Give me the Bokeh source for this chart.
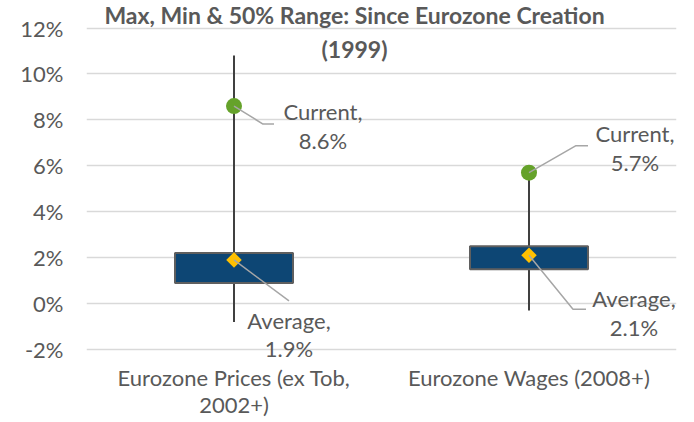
from bokeh.plotting import figure
from bokeh.models import Range1d, FixedTicker, Label
from bokeh.embed import file_html
from bokeh.resources import INLINE
import math

# ---- data ----
categories = ["Eurozone Prices (ex Tob,\n2002+)", "Eurozone Wages (2008+)"]
max_vals = [10.8, 5.7]
min_vals = [-0.8, -0.3]
q_low = [0.9, 1.5]
q_high = [2.2, 2.5]
current = [8.6, 5.7]
average = [1.9, 2.1]
y_ticks = [-2, 0, 2, 4, 6, 8, 10, 12]
y_tick_labels = ["-2%", "0%", "2%", "4%", "6%", "8%", "10%", "12%"]
title_lines = ["Max, Min & 50% Range: Since Eurozone Creation", "(1999)"]

FONT = "Lato"
TXT = "#595959"
FS = "22px"

W, H = 678, 420
left_b, right_b = 86, 2
frame_w = W - left_b - right_b
frame_h = H
# pixel rows of the 12% and -2% grid lines
top_px, bot_px = 27.5, 349.0
px_y = (bot_px - top_px) / 14.0
y_top = 12 + top_px / px_y
y_bot = -2 - (H - bot_px) / px_y
x0, x1 = 0, 2
px_x = frame_w / (x1 - x0)

p = figure(frame_width=frame_w, frame_height=frame_h, output_backend="svg",
           toolbar_location=None, title=None,
           x_range=Range1d(x0, x1), y_range=Range1d(y_bot, y_top),
           min_border_left=left_b, min_border_right=right_b,
           min_border_top=0, min_border_bottom=0)
p.outline_line_color = None
p.xgrid.visible = False
p.ygrid.grid_line_color = "#D9D9D9"
p.ygrid.grid_line_width = 1.5
p.ygrid.ticker = FixedTicker(ticks=y_ticks)
p.xaxis.visible = False

p.yaxis.ticker = FixedTicker(ticks=y_ticks)
p.yaxis.major_label_overrides = {t: l for t, l in zip(y_ticks, y_tick_labels)}
p.yaxis.axis_line_color = None
p.yaxis.major_tick_line_color = None
p.yaxis.minor_tick_line_color = None
p.yaxis.major_tick_out = 0
p.yaxis.major_tick_in = 0
p.yaxis.major_label_standoff = 23
p.yaxis.major_label_text_font = FONT
p.yaxis.major_label_text_font_size = FS
p.yaxis.major_label_text_color = TXT

xs = [i + 0.5 for i in range(len(categories))]

# whiskers
p.segment(x0=xs, x1=xs, y0=min_vals, y1=max_vals, line_color="#404040", line_width=2)
# boxes
p.vbar(x=xs, bottom=q_low, top=q_high, width=0.4, fill_color="#0D4674",
       line_color="#5F5F5F", line_width=2)
# markers
p.scatter(x=xs, y=current, marker="circle", size=16, fill_color="#65A22A", line_color=None)
p.scatter(x=xs, y=average, marker="square", size=11, angle=math.pi / 4,
          fill_color="#FFC000", line_color=None)

# leader lines (pixel offsets from each point)
leaders = [
    (0, current[0], [(29, 18), (40, 18)]),
    (0, average[0], [(55, 41)]),
    (1, current[1], [(47, -27), (59, -27)]),
    (1, average[1], [(44, 54), (57, 54)]),
]
for i, v, pts in leaders:
    lx = [xs[i]] + [xs[i] + dx / px_x for dx, dy in pts]
    ly = [v] + [v - dy / px_y for dx, dy in pts]
    p.line(lx, ly, line_color="#A6A6A6", line_width=1.5)

# data labels: (index, value, name, dx, dy1, dy2)
labels = [
    (0, current[0], "Current,", 89, 5, 34),
    (0, average[0], "Average,", 55, 61, 89),
    (1, current[1], "Current,", 106, -39, -10),
    (1, average[1], "Average,", 105, 43, 72),
]
for i, v, name, dx, dy1, dy2 in labels:
    for txt, dy in ((name, dy1), (f"{v:.1f}%", dy2)):
        p.add_layout(Label(x=xs[i], y=v, x_offset=dx, y_offset=-dy, text=txt,
                           text_align="center", text_baseline="middle",
                           text_font=FONT, text_font_size=FS, text_color=TXT))

# category labels below the -2% line
for x, cat in zip(xs, categories):
    for k, line in enumerate(cat.split("\n")):
        p.add_layout(Label(x=x, y=y_ticks[0], y_offset=-(28 + 27 * k), text=line,
                           text_align="center", text_baseline="middle",
                           text_font=FONT, text_font_size=FS, text_color=TXT))

# title
tx = (354 - left_b) / px_x
for line, fy in zip(title_lines, [14, 48]):
    ty = 12 + (top_px - fy) / px_y
    p.add_layout(Label(x=tx, y=ty, text=line, text_align="center", text_baseline="middle",
                       text_font=FONT, text_font_size="23px", text_font_style="bold",
                       text_color=TXT))

open("out.html", "w").write(file_html(p, INLINE))
